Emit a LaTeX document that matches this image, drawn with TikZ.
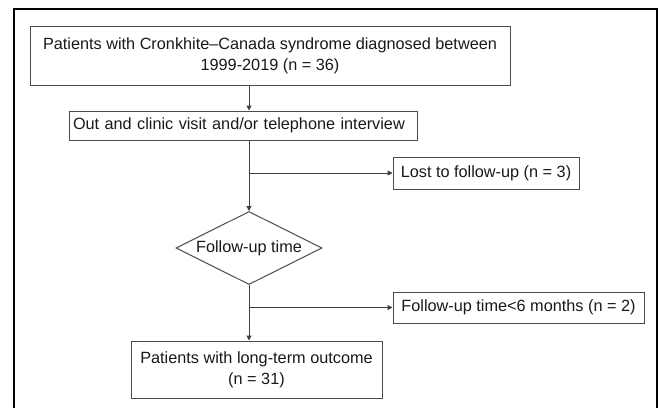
\documentclass[tikz,border=0pt]{standalone}
\usepackage{fontspec}
\setmainfont{Liberation Sans}
\usetikzlibrary{shapes.geometric,arrows.meta}

\begin{document}
\begin{tikzpicture}[x=0.75pt, y=-0.75pt,
    font=\fontsize{12.2}{16}\selectfont,
    flowbox/.style={draw=black!70, line width=0.75pt, inner sep=3pt, text=black!90},
    decision/.style={diamond, aspect=2, draw=black!70, line width=0.75pt, inner sep=0pt, text=black!90},
    flowline/.style={draw=black!75, line width=0.75pt},
    flowarrow/.style={flowline, -{Triangle[length=3.75pt, width=3.75pt]}}]
    \useasboundingbox (0,0) rectangle (659,407);
    % outer frame
    \begin{scope}
        \clip (0,0) rectangle (659,407);
        \draw[line width=1.2pt] (14,9) rectangle (657,430);
    \end{scope}
    % boxes
    \node[flowbox, minimum width=360pt, minimum height=44.25pt, align=center] (diagnosed) at (270,55.5)
        {Patients with Cronkhite--Canada syndrome diagnosed between\\1999-2019 (n = 36)};
    \node[flowbox, minimum height=21.75pt, text width=255pt, align=left] (visit) at (243,125.5)
        {Out and clinic visit and/or telephone interview};
    \node[flowbox, minimum width=139.5pt, minimum height=24pt] (lost) at (486,173)
        {Lost to follow-up (n = 3)};
    \node[decision, minimum width=109.5pt, minimum height=54.75pt] (futime) at (249,248)
        {Follow-up time};
    \node[flowbox, minimum width=188.25pt, minimum height=23.25pt] (short) at (518.5,307.5)
        {Follow-up time<6 months (n = 2)};
    \node[flowbox, minimum width=188.25pt, minimum height=42.75pt, align=center] (outcome) at (256.5,369.5)
        {Patients with long-term outcome\\(n = 31)};
    % connectors
    \coordinate (split1) at (futime.north |- lost.west);
    \coordinate (split2) at (futime.south |- short.west);
    \draw[flowarrow] (diagnosed.south -| futime.north) -- (visit.north -| futime.north);
    \draw[flowarrow] (visit.south -| futime.north) -- (futime.north);
    \draw[flowarrow] (split1) -- (lost.west);
    \draw[flowarrow] (futime.south) -- (outcome.north -| futime.south);
    \draw[flowarrow] (split2) -- (short.west);
\end{tikzpicture}
\end{document}
